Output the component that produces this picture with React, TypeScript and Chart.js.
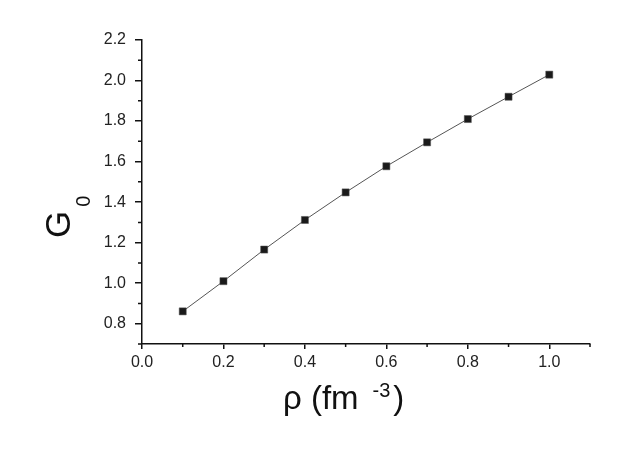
import React, { useEffect, useRef } from 'react';
import { Chart, registerables } from 'chart.js';

Chart.register(...registerables);

const densities = [0.1, 0.2, 0.3, 0.4, 0.5, 0.6, 0.7, 0.8, 0.9, 1.0];
const g0Values = [0.861, 1.01, 1.166, 1.312, 1.448, 1.577, 1.695, 1.81, 1.92, 2.029];
const xMajorTicks = [0, 0.2, 0.4, 0.6, 0.8, 1.0];
const xMinorTicks = [0.1, 0.3, 0.5, 0.7, 0.9, 1.1];
const yMajorTicks = [0.8, 1.0, 1.2, 1.4, 1.6, 1.8, 2.0, 2.2];
const yMinorTicks = [0.7, 0.9, 1.1, 1.3, 1.5, 1.7, 1.9, 2.1];
const xTitleMain = 'ρ (fm';
const xTitleSup = '-3';
const xTitleEnd = ')';
const yTitleMain = 'G';
const yTitleSub = '0';

const FONT = '"Liberation Sans", Arial, Helvetica, sans-serif';
const INK = '#111';

const decorPlugin = {
  id: 'decor',
  afterDraw(chart: any) {
    const ctx = chart.ctx as CanvasRenderingContext2D;
    const xs = chart.scales.x;
    const ys = chart.scales.y;
    const area = chart.chartArea;
    ctx.save();
    // minor ticks
    ctx.strokeStyle = INK;
    ctx.lineWidth = 1.5;
    ctx.beginPath();
    for (const v of xMinorTicks) {
      const px = xs.getPixelForValue(v);
      ctx.moveTo(px, area.bottom);
      ctx.lineTo(px, area.bottom + 3);
    }
    for (const v of yMinorTicks) {
      const py = ys.getPixelForValue(v);
      ctx.moveTo(area.left, py);
      ctx.lineTo(area.left - 4, py);
    }
    ctx.stroke();

    ctx.fillStyle = INK;
    ctx.textBaseline = 'alphabetic';
    ctx.textAlign = 'left';

    // x title
    const xBase = area.bottom + 65;
    let cx = 283;
    ctx.font = `33px ${FONT}`;
    ctx.fillText(xTitleMain, cx, xBase);
    cx += ctx.measureText(xTitleMain).width + 14;
    ctx.font = `20px ${FONT}`;
    ctx.fillText(xTitleSup, cx, xBase - 12);
    cx += ctx.measureText(xTitleSup).width + 3;
    ctx.font = `33px ${FONT}`;
    ctx.fillText(xTitleEnd, cx, xBase);

    // y title (rotated)
    ctx.translate(70, area.top + 198);
    ctx.rotate(-Math.PI / 2);
    ctx.font = `35px ${FONT}`;
    ctx.fillText(yTitleMain, 0, 0);
    const gw = ctx.measureText(yTitleMain).width;
    ctx.font = `20px ${FONT}`;
    ctx.fillText(yTitleSub, gw + 4, 20);
    ctx.restore();
  },
};

export default function App() {
  const canvasRef = useRef<HTMLCanvasElement | null>(null);

  useEffect(() => {
    const canvas = canvasRef.current;
    if (!canvas) return;
    const chart = new Chart(canvas, {
      type: 'line',
      data: {
        datasets: [
          {
            data: densities.map((x, i) => ({ x, y: g0Values[i] })),
            borderColor: '#555',
            borderWidth: 1,
            pointStyle: 'rect',
            pointRadius: 5,
            pointBorderWidth: 0.5,
            pointBackgroundColor: '#1a1a1a',
            pointBorderColor: '#555',
            fill: false,
            tension: 0,
          },
        ],
      },
      options: {
        animation: false,
        responsive: false,
        devicePixelRatio: 1,
        layout: { padding: { top: 40, right: 33, left: 0, bottom: 0 } },
        plugins: { legend: { display: false }, tooltip: { enabled: false } },
        scales: {
          x: {
            type: 'linear',
            min: 0,
            max: 1.1,
            afterBuildTicks: (s: any) => {
              s.ticks = xMajorTicks.map((value) => ({ value }));
            },
            afterFit: (s: any) => {
              s.height = 110;
            },
            ticks: {
              callback: (v: any) => Number(v).toFixed(1),
              font: { family: FONT, size: 16 },
              color: '#222',
              padding: 4,
              maxRotation: 0,
              autoSkip: false,
            },
            grid: { drawOnChartArea: false, tickLength: 5, color: INK, lineWidth: 1.5 },
            border: { color: INK, width: 1.5 },
          },
          y: {
            type: 'linear',
            min: 0.7,
            max: 2.2,
            afterBuildTicks: (s: any) => {
              s.ticks = yMajorTicks.map((value) => ({ value }));
            },
            afterFit: (s: any) => {
              s.width = 142;
            },
            ticks: {
              callback: (v: any) => Number(v).toFixed(1),
              font: { family: FONT, size: 16 },
              color: '#222',
              padding: 9,
              autoSkip: false,
            },
            grid: { drawOnChartArea: false, tickLength: 7, color: INK, lineWidth: 1.5 },
            border: { color: INK, width: 1.5 },
          },
        },
      },
      plugins: [decorPlugin],
    });
    return () => chart.destroy();
  }, []);

  return (
    <div style={{ position: 'absolute', left: 0, top: 0, width: 623, height: 454, background: '#fff' }}>
      <canvas ref={canvasRef} width={623} height={454} style={{ display: 'block' }} />
    </div>
  );
}
